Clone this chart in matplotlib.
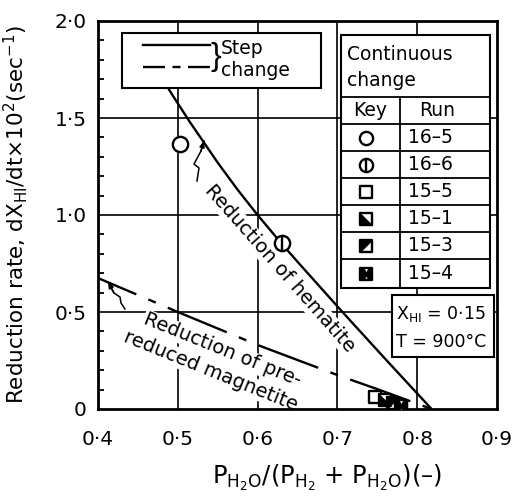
import matplotlib
matplotlib.use("Agg")
import matplotlib.pyplot as plt
from matplotlib.path import Path
from matplotlib.patches import Rectangle

plt.rcParams['font.family'] = ['DejaVu Sans']
plt.rcParams['mathtext.default'] = 'regular'
plt.rcParams['lines.scale_dashes'] = False

# ---------------- data ----------------
hem_x = [0.487, 0.493, 0.515, 0.55, 0.575, 0.60, 0.631, 0.65, 0.707, 0.76, 0.818]
hem_y = [1.66, 1.62, 1.48, 1.27, 1.13, 1.00, 0.848, 0.759, 0.497, 0.258, 0.0]

mag_x = [0.40, 0.50, 0.60, 0.70, 0.753, 0.818]
mag_y = [0.675, 0.50, 0.33, 0.175, 0.098, 0.0]

runs = ['16–5', '16–6', '15–5', '15–1', '15–3', '15–4']
run_x = [0.503, 0.631, 0.747, 0.760, 0.770, 0.780]
run_y = [1.366, 0.857, 0.063, 0.046, 0.030, 0.015]

xticks = [0.4, 0.5, 0.6, 0.7, 0.8, 0.9]
xticklabels = ['0·4', '0·5', '0·6', '0·7', '0·8', '0·9']
yticks = [0, 0.5, 1.0, 1.5, 2.0]
yticklabels = ['0', '0·5', '1·0', '1·5', '2·0']
xgrid = [0.5, 0.6, 0.7, 0.8]
ygrid = [0.5, 1.0, 1.5]

# ---------------- figure ----------------
W, H = 512, 501
fig = plt.figure(figsize=(W / 100, H / 100), dpi=100)
AX_L, AX_R, AX_T, AX_B = 98, 497, 21, 409
ax = fig.add_axes([AX_L / W, (H - AX_B) / H, (AX_R - AX_L) / W, (AX_B - AX_T) / H])
ax.set_xlim(0.4, 0.9)
ax.set_ylim(0, 2.0)


def A(px, py):
    """image pixel -> axes fraction (layout helper)"""
    return ((px - AX_L) / (AX_R - AX_L), (AX_B - py) / (AX_B - AX_T))


for s in ax.spines.values():
    s.set_linewidth(2.0)

ax.set_xticks(xticks)
ax.set_xticklabels(xticklabels)
ax.set_yticks(yticks)
ax.set_yticklabels(yticklabels)
ax.set_yticks([i / 10 for i in range(1, 20) if i % 5], minor=True)
ax.tick_params(axis='both', which='major', length=0, labelsize=14.5)
ax.tick_params(axis='x', which='major', pad=15)
ax.tick_params(axis='y', which='major', pad=8)
ax.tick_params(axis='y', which='minor', direction='in', length=4, width=1.3)

for gx in xgrid:
    ax.axvline(gx, color='black', lw=1.2, zorder=1)
for gy in ygrid:
    ax.axhline(gy, color='black', lw=1.2, zorder=1)

# curves
ax.plot(hem_x, hem_y, color='black', lw=1.7, zorder=3, solid_capstyle='butt')
ax.plot(mag_x, mag_y, color='black', lw=1.7, zorder=3,
        linestyle=(16, (46, 9.4, 5.8, 9.4)), dash_capstyle='butt')

# marker shapes
SQ = Path([(-1, -1), (1, -1), (1, 1), (-1, 1), (-1, -1)],
          [Path.MOVETO, Path.LINETO, Path.LINETO, Path.LINETO, Path.CLOSEPOLY])
TRI_LL = Path([(-1, 1), (-1, -1), (1, -1), (-1, 1)],
              [Path.MOVETO, Path.LINETO, Path.LINETO, Path.CLOSEPOLY])
TRI_UL = Path([(-1, -1), (-1, 1), (1, 1), (-1, -1)],
              [Path.MOVETO, Path.LINETO, Path.LINETO, Path.CLOSEPOLY])
HOUR = Path([(-1, -1), (-0.4, -1), (0, -0.3), (0.4, -1), (1, -1), (1, 1),
             (0.4, 1), (0, 0.3), (-0.4, 1), (-1, 1), (-1, -1)],
            [Path.MOVETO] + [Path.LINETO] * 9 + [Path.CLOSEPOLY])
fills = [None, None, None, TRI_LL, TRI_UL, HOUR]


def draw_marker(i, x, y, circ_ms, sq_ms, z=6, **kw):
    if i < 2:
        ax.plot([x], [y], marker='o', ms=circ_ms, mfc='white', mec='black',
                mew=1.7, ls='none', zorder=z, **kw)
        if i == 1:
            ax.plot([x], [y], marker='|', ms=circ_ms, mec='black', mew=1.7,
                    ls='none', zorder=z + 1, **kw)
    else:
        ax.plot([x], [y], marker=SQ, ms=sq_ms, mfc='white', mec='black',
                mew=1.7, ls='none', zorder=z, **kw)
        if fills[i] is not None:
            ax.plot([x], [y], marker=fills[i], ms=sq_ms, mfc='black', mec='black',
                    mew=0.5, ls='none', zorder=z + 1, **kw)


for i in range(len(runs)):
    draw_marker(i, run_x[i], run_y[i], 11, 9)

# ---------------- annotations ----------------
bb = dict(fc='white', ec='none', pad=0.6)
ax.text(0.628, 0.722, 'Reduction of hematite', rotation=-48.5, fontsize=14,
        ha='center', va='center', rotation_mode='anchor', zorder=2, bbox=bb)
ax.text(0.5554, 0.304, 'Reduction of pre-', rotation=-22, fontsize=14,
        ha='center', va='center', rotation_mode='anchor', zorder=2, bbox=bb)
ax.text(0.5416, 0.195, 'reduced magnetite', rotation=-22, fontsize=14,
        ha='center', va='center', rotation_mode='anchor', zorder=2, bbox=bb)


def zigzag(pts):
    xs, ys = zip(*[A(px, py) for px, py in pts])
    ax.plot(xs, ys, color='black', lw=1.1, transform=ax.transAxes, zorder=4)
    ax.annotate('', xy=A(*pts[-1]), xytext=A(*pts[-2]), xycoords='axes fraction',
                textcoords='axes fraction',
                arrowprops=dict(arrowstyle='-|>,head_length=0.35,head_width=0.15',
                                color='black', lw=1.1, shrinkA=0, shrinkB=0), zorder=4)


zigzag([(197, 181), (199, 168), (194, 164), (201, 151), (204, 141)])
zigzag([(125, 309), (121, 303), (120, 297), (114, 293), (108, 282)])

# ---------------- legend box (step change) ----------------
x0, y0 = A(122, 88)
x1, y1 = A(321, 33)
ax.add_patch(Rectangle((x0, y0), x1 - x0, y1 - y0, transform=ax.transAxes,
                       fc='white', ec='black', lw=1.5, zorder=8))
lx = [A(143, 0)[0], A(210, 0)[0]]
ax.plot(lx, [A(0, 45)[1]] * 2, color='black', lw=1.7, transform=ax.transAxes, zorder=9)
ax.plot(lx, [A(0, 67)[1]] * 2, color='black', lw=1.7, transform=ax.transAxes, zorder=9,
        linestyle=(0, (15.8, 5.4, 5.8, 5.4)))
ax.text(*A(210, 57), '}', fontsize=23, ha='left', va='center', transform=ax.transAxes,
        zorder=9, family=['Liberation Sans'])
ax.text(*A(221, 49), 'Step', fontsize=13.5, ha='left', va='center',
        transform=ax.transAxes, zorder=9)
ax.text(*A(221, 70), 'change', fontsize=13.5, ha='left', va='center',
        transform=ax.transAxes, zorder=9)

# ---------------- table (continuous change) ----------------
tx0, ty_top = A(341, 35)
tx1, ty_bot = A(490, 288)
ax.add_patch(Rectangle((tx0, ty_bot), tx1 - tx0, ty_top - ty_bot, transform=ax.transAxes,
                       fc='white', ec='black', lw=1.5, zorder=8))
ax.text(*A(347, 54), 'Continuous', fontsize=13.5, ha='left', va='center',
        transform=ax.transAxes, zorder=9)
ax.text(*A(347, 80), 'change', fontsize=13.5, ha='left', va='center',
        transform=ax.transAxes, zorder=9)
row_lines = [97, 124, 151, 178, 205, 232, 259]
for ry in row_lines:
    yy = A(0, ry)[1]
    ax.plot([tx0, tx1], [yy, yy], color='black', lw=1.3, transform=ax.transAxes, zorder=9)
cx = A(400, 0)[0]
ax.plot([cx, cx], [A(0, 97)[1], ty_bot], color='black', lw=1.3,
        transform=ax.transAxes, zorder=9)
ax.text(*A(370, 111), 'Key', fontsize=13.5, ha='center', va='center',
        transform=ax.transAxes, zorder=9)
ax.text(*A(437, 111), 'Run', fontsize=13.5, ha='center', va='center',
        transform=ax.transAxes, zorder=9)
for i, r in enumerate(runs):
    ry = (row_lines[i + 1] + (row_lines[i + 2] if i + 2 < len(row_lines) else 288)) / 2
    ax.text(*A(408, ry), r, fontsize=13.5, ha='left', va='center',
            transform=ax.transAxes, zorder=9)
    kx, ky = A(366, ry)
    draw_marker(i, kx, ky, 9.5, 8.5, z=10, transform=ax.transAxes, clip_on=False)

# ---------------- conditions box ----------------
bx0, by0 = A(392, 357)
bx1, by1 = A(494, 295)
ax.add_patch(Rectangle((bx0, by0), bx1 - bx0, by1 - by0, transform=ax.transAxes,
                       fc='white', ec='black', lw=1.5, zorder=8))
ax.text(*A(396, 314), r'X$_{\rm HI}$ = 0·15', fontsize=12.5, ha='left', va='center',
        transform=ax.transAxes, zorder=9)
ax.text(*A(396, 342), 'T = 900°C', fontsize=12.5, ha='left', va='center',
        transform=ax.transAxes, zorder=9)

# ---------------- axis labels ----------------
ax.set_ylabel(r'Reduction rate, dX$_{\rm HI}$/dt$\times$10$^{2}$(sec$^{-1}$)', fontsize=15.5)
ax.yaxis.set_label_coords(A(30, 0)[0], 0.5)
fig.text(327 / W, (H - 478) / H,
         r'P$_{\rm H_2O}$/(P$_{\rm H_2}$ + P$_{\rm H_2O}$)(–)',
         fontsize=17.5, ha='center', va='center')

fig.savefig('out.png', dpi=100)
